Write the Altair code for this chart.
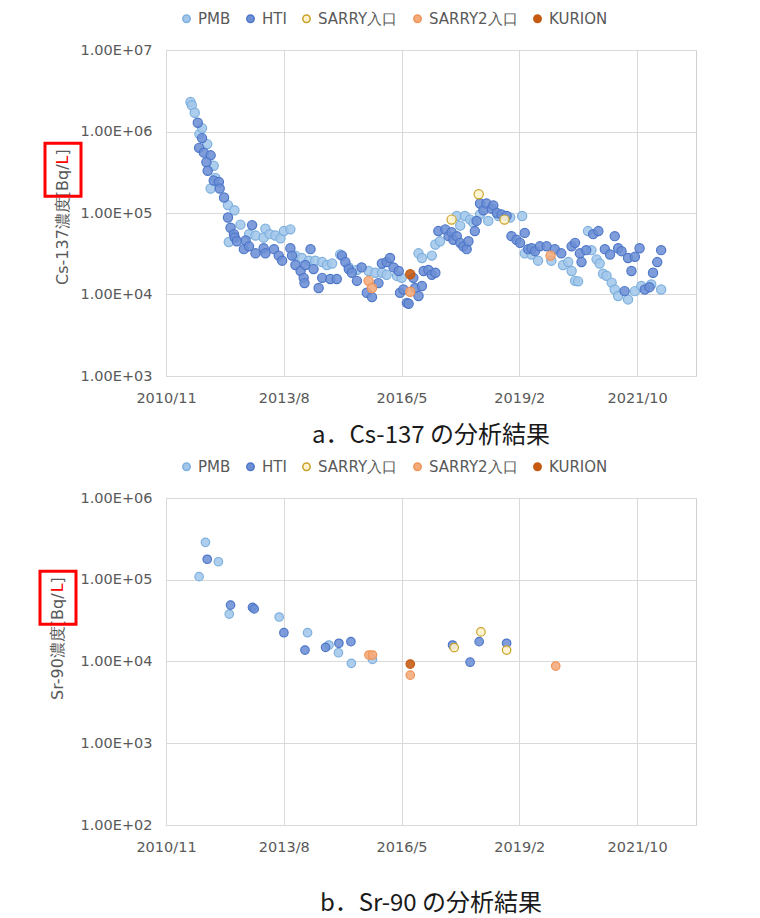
import altair as alt
import pandas as pd
import numpy as np

# ---------------- a. Cs-137 (decimal year, Bq/L) ----------------
cs_pmb_year = [2011.45, 2011.48, 2011.55, 2011.66, 2011.72, 2011.84, 2011.92, 2011.99, 2012.03, 2012.32,
               2012.34, 2012.47, 2012.61, 2012.81, 2012.96, 2013.15, 2013.19, 2013.29, 2013.42, 2013.54,
               2013.62, 2013.77, 2013.89, 2014.04, 2014.20, 2014.35, 2014.51, 2014.62, 2014.74, 2014.93,
               2015.13, 2015.32, 2015.59, 2015.75, 2015.90, 2016.01, 2016.25, 2016.36, 2016.75, 2016.83,
               2017.06, 2017.14, 2017.25, 2017.64, 2017.72, 2017.83, 2017.95, 2018.03, 2018.18, 2018.37,
               2018.61, 2018.88, 2019.16, 2019.22, 2019.38, 2019.53, 2019.84, 2020.11, 2020.23, 2020.31,
               2020.39, 2020.46, 2020.69, 2020.77, 2020.89, 2020.96, 2021.04, 2021.12, 2021.24, 2021.31,
               2021.39, 2021.62, 2021.78, 2021.93, 2022.16, 2022.39]
cs_pmb_val = [2.3e6, 2.1e6, 1.7e6, 9.3e5, 1.1e6, 7.0e5, 2.0e5, 3.8e5, 2.7e5, 1.25e5,
              4.4e4, 1.08e5, 7.2e4, 5.5e4, 5.3e4, 5.0e4, 6.4e4, 5.5e4, 5.3e4, 4.9e4,
              6.0e4, 6.3e4, 3.0e4, 2.8e4, 2.6e4, 2.6e4, 2.5e4, 2.3e4, 2.4e4, 3.1e4,
              2.15e4, 2.0e4, 1.94e4, 1.85e4, 1.85e4, 1.75e4, 1.69e4, 1.6e4, 3.2e4, 2.8e4,
              3.0e4, 4.1e4, 4.5e4, 9.2e4, 7.0e4, 9.2e4, 8.3e4, 7.6e4, 9.6e4, 8.0e4,
              9.2e4, 8.8e4, 9.2e4, 3.2e4, 3.1e4, 2.6e4, 2.6e4, 2.3e4, 2.5e4, 1.94e4,
              1.47e4, 1.45e4, 6.0e4, 3.5e4, 2.7e4, 2.4e4, 1.8e4, 1.7e4, 1.4e4, 1.15e4,
              9.6e3, 8.7e3, 1.1e4, 1.27e4, 1.33e4, 1.15e4]

cs_hti_year = [2011.62, 2011.72, 2011.65, 2011.76, 2011.92, 2011.82, 2011.85, 2011.99, 2012.11, 2012.13,
               2012.23, 2012.32, 2012.38, 2012.46, 2012.48, 2012.53, 2012.73, 2012.69, 2012.81, 2012.88,
               2012.96, 2013.15, 2013.19, 2013.39, 2013.50, 2013.58, 2013.77, 2013.81, 2013.89, 2014.01,
               2014.08, 2014.10, 2014.24, 2014.12, 2014.31, 2014.43, 2014.51, 2014.70, 2014.85, 2014.97,
               2015.05, 2015.13, 2015.20, 2015.32, 2015.43, 2015.55, 2015.67, 2015.82, 2015.90, 2016.01,
               2016.09, 2016.17, 2016.29, 2016.32, 2016.48, 2016.40, 2016.52, 2016.63, 2016.67, 2016.75,
               2016.83, 2016.87, 2016.98, 2017.06, 2017.14, 2017.21, 2017.37, 2017.45, 2017.52, 2017.56,
               2017.64, 2017.72, 2017.79, 2017.87, 2017.91, 2018.06, 2018.10, 2018.18, 2018.26, 2018.33,
               2018.45, 2018.49, 2018.57, 2018.68, 2018.80, 2018.91, 2019.03, 2019.11, 2019.22, 2019.30,
               2019.38, 2019.46, 2019.57, 2019.73, 2019.92, 2020.07, 2020.31, 2020.39, 2020.50, 2020.54,
               2020.65, 2020.81, 2020.93, 2021.08, 2021.20, 2021.31, 2021.39, 2021.47, 2021.54, 2021.62,
               2021.70, 2021.78, 2021.89, 2022.01, 2022.12, 2022.20, 2022.30, 2022.39]
cs_hti_val = [1.28e6, 8.3e5, 6.3e5, 5.5e5, 5.1e5, 4.2e5, 3.3e5, 2.5e5, 2.4e5, 2.0e5,
              1.55e5, 8.8e4, 6.6e4, 5.5e4, 5.0e4, 4.5e4, 4.6e4, 3.6e4, 3.9e4, 7.1e4,
              3.2e4, 3.7e4, 3.2e4, 3.6e4, 3.0e4, 2.6e4, 3.7e4, 3.0e4, 2.3e4, 1.94e4,
              1.6e4, 1.38e4, 3.6e4, 2.3e4, 2.05e4, 1.2e4, 1.6e4, 1.55e4, 1.55e4, 3.0e4,
              2.5e4, 2.05e4, 1.85e4, 1.47e4, 2.15e4, 1.05e4, 9.3e3, 1.38e4, 2.4e4, 2.5e4,
              2.8e4, 2.15e4, 1.94e4, 1.05e4, 7.9e3, 1.15e4, 7.7e3, 1.6e4, 1.2e4, 9.6e3,
              1.27e4, 1.94e4, 2.0e4, 1.75e4, 1.85e4, 6.0e4, 6.3e4, 5.2e4, 5.8e4, 4.7e4,
              5.2e4, 4.3e4, 3.9e4, 3.6e4, 4.5e4, 6.0e4, 8.0e4, 1.31e5, 1.08e5, 1.31e5,
              1.13e5, 1.24e5, 1.0e5, 9.6e4, 9.2e4, 5.2e4, 4.7e4, 4.3e4, 5.7e4, 3.6e4,
              3.7e4, 3.4e4, 3.9e4, 3.9e4, 3.6e4, 3.2e4, 3.9e4, 4.3e4, 3.2e4, 2.5e4,
              3.5e4, 5.5e4, 6.0e4, 3.6e4, 3.1e4, 5.2e4, 3.7e4, 3.4e4, 1.1e4, 2.8e4,
              1.94e4, 2.9e4, 3.7e4, 1.15e4, 1.23e4, 1.85e4, 2.5e4, 3.5e4]

cs_sarry_year = [2017.52, 2018.15, 2018.75]
cs_sarry_val = [8.3e4, 1.7e5, 8.3e4]
cs_sarry2_year = [2015.59, 2015.67, 2016.56, 2019.82]
cs_sarry2_val = [1.47e4, 1.2e4, 1.08e4, 3.0e4]
cs_kurion_year = [2016.56]
cs_kurion_val = [1.77e4]

# ---------------- b. Sr-90 (decimal year, Bq/L) ----------------
sr_pmb_year = [2011.65, 2011.80, 2012.10, 2012.35, 2013.51, 2014.17, 2014.67, 2014.89, 2015.19, 2015.68]
sr_pmb_val = [1.09e5, 2.87e5, 1.66e5, 3.8e4, 3.5e4, 2.25e4, 1.59e4, 1.28e4, 9.5e3, 1.06e4]
sr_hti_year = [2011.84, 2012.38, 2012.89, 2012.93, 2013.62, 2014.11, 2014.59, 2014.90, 2015.18,
               2017.54, 2017.95, 2018.16, 2018.80]
sr_hti_val = [1.78e5, 4.9e4, 4.6e4, 4.4e4, 2.25e4, 1.38e4, 1.49e4, 1.67e4, 1.75e4,
              1.59e4, 9.8e3, 1.75e4, 1.67e4]
sr_sarry_year = [2017.58, 2018.20, 2018.80]
sr_sarry_val = [1.48e4, 2.3e4, 1.38e4]
sr_sarry2_year = [2015.60, 2015.68, 2016.56, 2019.94]
sr_sarry2_val = [1.2e4, 1.2e4, 6.8e3, 8.8e3]
sr_kurion_year = [2016.56]
sr_kurion_val = [9.3e3]

SERIES = ["PMB", "HTI", "SARRY入口", "SARRY2入口", "KURION"]
FILLS = ["#a3c7ea", "#6c8fd5", "#fff2cc", "#f4ab7c", "#c55a11"]
STROKES = ["#7eb0de", "#4f77c9", "#c9a227", "#f09356", "#c55a11"]

GRAY = "#595959"
RED = "#ff0000"
TICK_FONT = "DejaVu Sans"


def to_date(y):
    yr = int(np.floor(y))
    start = pd.Timestamp(yr, 1, 1)
    end = pd.Timestamp(yr + 1, 1, 1)
    return (start + (end - start) * (y - yr)).strftime("%Y-%m-%d")


def frame(groups):
    rows = []
    for name, years, vals in groups:
        for y, v in zip(years, vals):
            rows.append({"date": to_date(y), "value": v, "series": name})
    return pd.DataFrame(rows)


cs_df = frame([("PMB", cs_pmb_year, cs_pmb_val), ("HTI", cs_hti_year, cs_hti_val),
               ("SARRY入口", cs_sarry_year, cs_sarry_val), ("SARRY2入口", cs_sarry2_year, cs_sarry2_val),
               ("KURION", cs_kurion_year, cs_kurion_val)])
sr_df = frame([("PMB", sr_pmb_year, sr_pmb_val), ("HTI", sr_hti_year, sr_hti_val),
               ("SARRY入口", sr_sarry_year, sr_sarry_val), ("SARRY2入口", sr_sarry2_year, sr_sarry2_val),
               ("KURION", sr_kurion_year, sr_kurion_val)])

X_TICKS = [alt.DateTime(year=2010, month=11, date=18, utc=True),
           alt.DateTime(year=2013, month=8, date=14, utc=True),
           alt.DateTime(year=2016, month=5, date=10, utc=True),
           alt.DateTime(year=2019, month=2, date=4, utc=True),
           alt.DateTime(year=2021, month=10, date=31, utc=True)]
X_DOMAIN = [alt.DateTime(year=2010, month=11, date=18, utc=True),
            alt.DateTime(year=2023, month=3, date=15, utc=True)]

# DejaVu Sans advance widths (em) for laying out the split-colour axis title
EM = {"C": 0.698, "s": 0.521, "-": 0.361, "1": 0.636, "3": 0.636, "7": 0.636, "9": 0.636, "0": 0.636,
      "S": 0.635, "r": 0.411, "[": 0.390, "B": 0.686, "q": 0.635, "/": 0.337, "L": 0.557, "]": 0.390}


def text_w(s, size):
    return sum(EM.get(ch, 1.0) for ch in s) * size


def ytitle(prefix, ax, ay, size=16):
    head = prefix + "[Bq/"
    w_head = text_w(head, size)
    w_l = text_w("L", size)
    w_all = w_head + w_l + text_w("]", size)
    w_pre = text_w(prefix, size)
    base = dict(angle=270, align="left", baseline="middle", font=TICK_FONT, fontSize=size)
    one = alt.Data(values=[{"k": 0}])
    t1 = alt.Chart(one).mark_text(text=head, color=GRAY, **base).encode(x=alt.value(ax), y=alt.value(ay))
    t2 = alt.Chart(one).mark_text(text="L", color=RED, **base).encode(x=alt.value(ax), y=alt.value(ay - w_head))
    t3 = alt.Chart(one).mark_text(text="]", color=GRAY, **base).encode(
        x=alt.value(ax), y=alt.value(ay - w_head - w_l))
    box = alt.Chart(one).mark_rect(fillOpacity=0, stroke=RED, strokeWidth=3).encode(
        x=alt.value(ax - 18), x2=alt.value(ax + 18),
        y=alt.value(ay - w_all - 6), y2=alt.value(ay - w_pre - 1))
    return [t1, t2, t3, box]


def panel(df, ymin, ymax, title, title_offset, prefix, ax, ay, h, msize):
    exps = list(range(int(np.log10(ymin)), int(np.log10(ymax)) + 1))
    yvals = [10.0 ** e for e in exps]
    leg = alt.Legend(title=None, orient="none", legendX=13, legendY=-39, direction="horizontal",
                     symbolType="circle", symbolSize=55, symbolStrokeWidth=1.5,
                     labelFont=TICK_FONT, labelFontSize=15, labelColor=GRAY,
                     columnPadding=12, labelOffset=4, padding=0)
    pts = alt.Chart(df).mark_circle(size=msize, strokeWidth=1.2, opacity=1, fillOpacity=0.88).encode(
        x=alt.X("date:T",
                scale=alt.Scale(type="utc", domain=X_DOMAIN, nice=False),
                axis=alt.Axis(values=X_TICKS, labelExpr="utcFormat(datum.value, '%Y/%-m')",
                              title=None, labelPadding=15, labelFlush=False)),
        y=alt.Y("value:Q",
                scale=alt.Scale(type="log", domain=[ymin, ymax], nice=False),
                axis=alt.Axis(values=yvals,
                              labelExpr="replace(format(datum.value, '.2e'), 'e+', 'E+0')",
                              title=None, labelPadding=14)),
        fill=alt.Fill("series:N", scale=alt.Scale(domain=SERIES, range=FILLS), legend=leg),
        stroke=alt.Stroke("series:N", scale=alt.Scale(domain=SERIES, range=STROKES), legend=leg),
    )
    layers = [pts] + ytitle(prefix, ax, ay)
    return alt.layer(*layers).properties(
        width=530, height=h,
        title=alt.TitleParams(text=title, orient="bottom", anchor="middle", frame="group",
                              font="Noto Sans CJK JP", fontSize=24, fontWeight="normal",
                              color="#1a1a1a", offset=title_offset),
    )


c1 = panel(cs_df, 1e3, 1e7, "a．Cs-137 の分析結果", 19, "Cs-137濃度", -103, 235, 326, 85)
c2 = panel(sr_df, 1e2, 1e6, "b．Sr-90 の分析結果", 38, "Sr-90濃度", -108, 202, 327, 72)

chart = alt.vconcat(c1, c2, spacing=10).resolve_scale(
    fill="independent", stroke="independent"
).resolve_legend(
    fill="independent", stroke="independent"
).properties(
    padding={"left": 30, "top": 2, "right": 5, "bottom": 0},
    background="white",
).configure_axis(
    labelFont=TICK_FONT, labelFontSize=14.5, labelColor=GRAY,
    gridColor="#d9d9d9", gridWidth=1, domain=False, ticks=False, tickSize=0,
).configure_view(stroke="#d0d0d0", strokeWidth=1)

chart.save("out.html", embed_options={"renderer": "svg", "actions": False})
